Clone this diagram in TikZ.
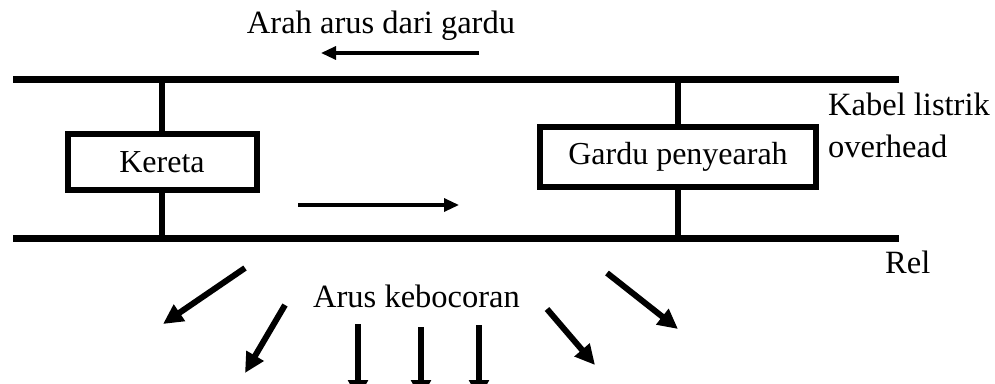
\documentclass[tikz,border=0pt]{standalone}
\usepackage{fontspec}
\setmainfont{Liberation Serif}
\usetikzlibrary{arrows.meta}
\begin{document}
\begin{tikzpicture}[x=1pt,y=-1pt,
  lbl/.style={font=\fontsize{32.5}{38}\selectfont, inner sep=0pt},
  boxnode/.style={draw, line width=6pt, inner sep=0pt, font=\fontsize{32}{38}\selectfont},
  wire/.style={line width=7pt},
  post/.style={line width=6pt},
  leak/.style={line width=6pt, -{Triangle[length=20pt,width=19pt]}},
  flow/.style={line width=3.2pt, -{Triangle[length=15pt,width=13pt]}}]
\useasboundingbox (0,0) rectangle (995,383);
\clip (0,0) rectangle (995,383);
% wires
\coordinate (tl) at (13,79.5);
\coordinate (tr) at (899,79.5);
\coordinate (bl) at (13,238.5);
\coordinate (br) at (899,238.5);
\draw[wire] (tl) -- (tr);
\draw[wire] (bl) -- (br);
% boxes
\node[boxnode, minimum width=189pt, minimum height=56pt] (kereta) at (162,162) {Kereta};
\node[boxnode, minimum width=276pt, minimum height=60pt] (gardu) at (678,157) {Gardu penyearah};
\coordinate (kt) at (162,79.5);
\coordinate (kb) at (162,238.5);
\coordinate (gt) at (678,79.5);
\coordinate (gb) at (678,238.5);
\draw[post] (kereta.north) -- (kt);
\draw[post] (kereta.south) -- (kb);
\draw[post] (gardu.north) -- (gt);
\draw[post] (gardu.south) -- (gb);
% labels
\node[lbl, anchor=base] (arah) at (381,33) {Arah arus dari gardu};
\node[lbl, anchor=base west] (kabel) at (828,115) {Kabel listrik};
\node[lbl, anchor=base west] (over) at (828,157) {overhead};
\node[lbl, anchor=base west] (rel) at (885,273) {Rel};
\node[lbl, anchor=base west] (bocor) at (313,307) {Arus kebocoran};
% flow arrows
\coordinate (a1s) at (479,53);
\coordinate (a1e) at (321,53);
\draw[flow] (a1s) -- (a1e);
\coordinate (a2s) at (298,205);
\coordinate (a2e) at (459,205);
\draw[flow] (a2s) -- (a2e);
% leakage arrows
\coordinate (l1s) at (245,268); \coordinate (l1e) at (163,324);
\coordinate (l2s) at (285,305); \coordinate (l2e) at (245,373);
\coordinate (l3s) at (358,324); \coordinate (l3e) at (358,400);
\coordinate (l4s) at (421,327); \coordinate (l4e) at (421,400);
\coordinate (l5s) at (479,325); \coordinate (l5e) at (479,400);
\coordinate (l6s) at (547,309); \coordinate (l6e) at (595,365);
\coordinate (l7s) at (607,273); \coordinate (l7e) at (678,329);
\foreach \i in {1,...,7} \draw[leak] (l\i s) -- (l\i e);
\end{tikzpicture}
\end{document}
